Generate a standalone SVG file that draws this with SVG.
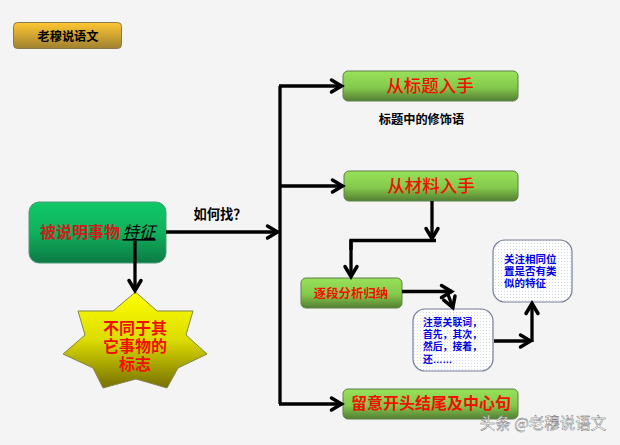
<svg xmlns="http://www.w3.org/2000/svg" width="620" height="445" viewBox="0 0 620 445">
<style>
text{font-family:"Noto Sans CJK SC","Liberation Serif",serif;text-anchor:middle}
.r{fill:#f01000}
.h{font-weight:700}
.m{font-weight:500}
.b{fill:#0000e0;font-weight:700;text-anchor:start}
.k{fill:#000;font-weight:700}
.bar{stroke:#5e7f48;stroke-width:1;fill:url(#gg)}
.note{stroke:#767f9c;stroke-width:1.2;fill:url(#dots)}
.c{fill:none;stroke:#000;stroke-width:3.300}
.a{fill:none;stroke:#000;stroke-width:3.300;marker-end:url(#ah)}
</style>
<defs>
<linearGradient id="gg" x1="0" y1="0" x2="0" y2="1"><stop offset="0" stop-color="#98e25a"/><stop offset=".55" stop-color="#84c94c"/><stop offset="1" stop-color="#557f33"/></linearGradient>
<linearGradient id="gold" x1="0" y1="0" x2="0" y2="1"><stop offset="0" stop-color="#ffc733"/><stop offset="1" stop-color="#a08130"/></linearGradient>
<linearGradient id="teal" x1="0" y1="0" x2="0" y2="1"><stop offset="0" stop-color="#10c868"/><stop offset=".5" stop-color="#10b05c"/><stop offset="1" stop-color="#0d7a45"/></linearGradient>
<linearGradient id="yel" x1="0" y1="0" x2="0" y2="1"><stop offset="0" stop-color="#ffff00"/><stop offset=".5" stop-color="#dcdc00"/><stop offset="1" stop-color="#767000"/></linearGradient>
<pattern id="dots" width="3" height="3" patternUnits="userSpaceOnUse"><rect width="3" height="3" fill="#fff"/><rect width="1" height="1" fill="#d4d7e6"/></pattern>
<marker id="ah" markerUnits="userSpaceOnUse" markerWidth="16" markerHeight="20" refX="13" refY="10" orient="auto"><path d="M2.500 4L12.500 10L2.500 16" fill="none" stroke="#000" stroke-width="3.500" stroke-linecap="round"/></marker>
</defs>
<rect width="620" height="445" fill="#f4f4f5"/>
<g id="n-title"><rect x="13.500" y="22.500" width="108" height="26" rx="4" fill="url(#gold)" stroke="#8a7a50"/><text x="68" y="41" class="k" font-size="12.200">老穆说语文</text></g>
<g id="n-main"><rect x="29" y="202" width="137" height="61" rx="10" fill="url(#teal)" stroke="#4f9a78"/><text x="80" y="238" class="h" font-size="16" style="fill:#c8201a">被说明事物</text><text x="139" y="238" font-size="16.500" fill="#000" font-style="italic" text-decoration="underline">特征</text></g>
<g id="n-star"><polygon points="135.500,292 157,311 193,311 186,335 207,354 178,368 167,388 136,379 103,388 93,368 63,354 85,335 78,311 113,311" fill="url(#yel)" stroke="#85854f"/><text class="r h" font-size="16"><tspan x="135" y="334">不同于其</tspan><tspan x="135" y="352">它事物的</tspan><tspan x="135" y="370">标志</tspan></text></g>
<g id="n-from-title"><rect x="343" y="71" width="175" height="30" rx="5" class="bar"/><text x="430" y="92" class="r m" font-size="17.500">从标题入手</text></g>
<text x="421.500" y="124" class="k" font-size="12.200">标题中的修饰语</text>
<g id="n-from-material"><rect x="344" y="171" width="174" height="30" rx="5" class="bar"/><text x="431" y="192" class="r m" font-size="17.500">从材料入手</text></g>
<g id="n-para"><rect x="301" y="278" width="101" height="30" rx="5" class="bar"/><text x="351" y="298" class="r h" font-size="12.400">逐段分析归纳</text></g>
<g id="n-open"><rect x="343" y="389" width="175" height="30" rx="5" class="bar"/><text x="431" y="409" class="r h" font-size="16">留意开头结尾及中心句</text></g>
<g id="n-note1"><rect x="413" y="309" width="80" height="62" rx="12" class="note"/><text class="b" font-size="9.800"><tspan x="423" y="325.500">注意关联词，</tspan><tspan x="423" y="338">首先，其次，</tspan><tspan x="423" y="350">然后，接着，</tspan><tspan x="423" y="363">还<tspan font-family="Liberation Sans">……</tspan></tspan></text></g>
<g id="n-note2"><rect x="493" y="240" width="79" height="62" rx="12" class="note"/><text class="b" font-size="10.500"><tspan x="504" y="262.500">关注相同位</tspan><tspan x="504" y="274.500">置是否有类</tspan><tspan x="504" y="287">似的特征</tspan></text></g>
<g id="connectors">
<path class="c" d="M280 404V86"/>
<path class="a" d="M279 86H342"/>
<path class="a" d="M279 186H343"/>
<path class="a" d="M279 404H342"/>
<path class="a" d="M166 232H278"/>
<path class="a" d="M135 241V291"/>
<path class="a" d="M432 201V239"/>
<path class="c" d="M436 240.500H351V250"/>
<path class="a" d="M351 240V277"/>
<path class="a" d="M402 291.500H452"/>
<path class="a" d="M446 289L453 308"/>
<path class="a" d="M494 341H531"/>
<path class="a" d="M532 342V303"/>
</g>
<text x="543" y="429" font-size="15.500" fill="#fff" stroke="#666" stroke-width=".4">头条 @老穆说语文</text>
<text x="220" y="219" class="k" font-size="13.300">如何找？</text>
</svg>
